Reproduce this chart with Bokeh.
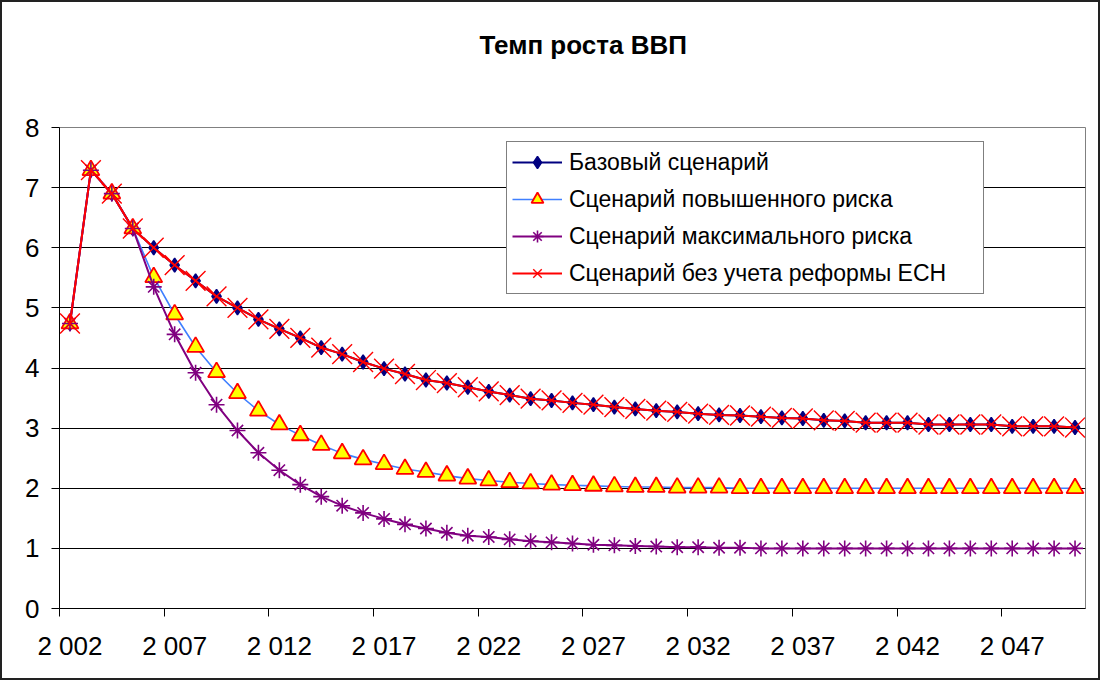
from bokeh.plotting import figure
from bokeh.models import FixedTicker, Legend, LegendItem, Range1d, Title
from bokeh.layouts import column
from bokeh.embed import file_html
from bokeh.resources import INLINE

# ---- data ----
years = list(range(2002, 2051))
label_years = [2002, 2007, 2012, 2017, 2022, 2027, 2032, 2037, 2042, 2047]
y_ticks = [0, 1, 2, 3, 4, 5, 6, 7, 8]

base = [4.74, 7.29, 6.90, 6.32, 6.00, 5.71, 5.45, 5.19, 5.00, 4.81, 4.65, 4.50, 4.34, 4.23,
        4.10, 3.99, 3.90, 3.80, 3.75, 3.68, 3.61,
        3.55, 3.49, 3.46, 3.42, 3.39, 3.35, 3.32, 3.29, 3.27, 3.24, 3.22, 3.21, 3.19, 3.17,
        3.16, 3.13, 3.12, 3.09, 3.09, 3.09, 3.06, 3.06, 3.06, 3.06, 3.03, 3.03, 3.03, 3.01]

raised = [4.74, 7.29, 6.90, 6.32, 5.51, 4.89, 4.35, 3.93, 3.58, 3.29, 3.06, 2.88, 2.72, 2.58,
          2.48, 2.40, 2.32, 2.27, 2.21, 2.16, 2.13,
          2.10, 2.08, 2.06, 2.05, 2.04, 2.03, 2.02, 2.02, 2.01, 2.01, 2.01,
          2.00, 2.00, 2.00, 2.00, 2.00, 2.00, 2.00, 2.00, 2.00, 2.00, 2.00, 2.00, 2.00, 2.00,
          2.00, 2.00, 2.00]

maximal = [4.74, 7.29, 6.90, 6.32, 5.35, 4.56, 3.92, 3.39, 2.96, 2.59, 2.30, 2.06, 1.86, 1.71,
           1.59, 1.49, 1.40, 1.33, 1.26, 1.21, 1.19,
           1.15, 1.12, 1.10, 1.08, 1.06, 1.05, 1.04, 1.03, 1.02, 1.02, 1.01, 1.01,
           1.00, 1.00, 1.00, 1.00, 1.00, 1.00, 1.00, 1.00, 1.00, 1.00, 1.00, 1.00, 1.00, 1.00,
           1.00, 1.00]

no_reform = [4.74, 7.29, 6.90, 6.32, 6.00, 5.71, 5.45, 5.19, 5.00, 4.81, 4.65, 4.50, 4.34, 4.23,
             4.10, 3.99, 3.90, 3.80, 3.75, 3.68, 3.61,
             3.55, 3.49, 3.46, 3.42, 3.39, 3.35, 3.32, 3.29, 3.27, 3.24, 3.22, 3.21, 3.19, 3.17,
             3.16, 3.13, 3.12, 3.09, 3.09, 3.09, 3.06, 3.06, 3.06, 3.06, 3.03, 3.03, 3.03, 3.01]

names = ["Базовый сценарий", "Сценарий повышенного риска",
         "Сценарий максимального риска", "Сценарий без учета реформы ЕСН"]
title_text = "Темп роста ВВП"

FONT = "Liberation Sans"

p = figure(width=1096, height=676, output_backend="svg", toolbar_location=None,
           x_range=Range1d(years[0] - 0.5, years[-1] + 0.5), y_range=Range1d(0, 8),
           min_border_left=57, min_border_right=13, min_border_top=125, min_border_bottom=70)

p.title.text = title_text
p.title.align = "left"
p.title.offset = 420
p.title.text_font = FONT
p.title.text_font_size = "26px"
p.title.text_font_style = "bold"
p.title.text_color = "black"
p.title.standoff = 10

# empty spacer panel between the frame and the title
p.add_layout(Title(text=" ", text_font_size="2px", standoff=59), "above")

# series
l1 = p.line(years, base, line_color="#000080", line_width=2)
m1 = p.scatter(years, base, marker="diamond", size=14,
               fill_color="#000080", line_color="#000080", line_width=1.5)

l2 = p.line(years, raised, line_color="#3f7fff", line_width=1.6)
m2 = p.scatter(years, raised, marker="triangle", size=17, fill_color="#ffff00",
               line_color="#ff0000", line_width=1.8)

l3 = p.line(years, maximal, line_color="#800080", line_width=2)
m3 = p.scatter(years, maximal, marker="asterisk", size=16, line_color="#800080", line_width=1.6)

l4 = p.line(years, no_reform, line_color="#ff0000", line_width=2)
m4 = p.scatter(years, no_reform, marker="x", size=28, line_color="#ff0000", line_width=1.4)

# axes
p.yaxis.ticker = FixedTicker(ticks=y_ticks)
p.yaxis.major_tick_out = 8
p.yaxis.major_tick_in = 0
p.yaxis.minor_tick_out = 0
p.yaxis.minor_tick_in = 0
p.yaxis.major_label_standoff = 12
p.yaxis.major_label_text_font = FONT
p.yaxis.major_label_text_font_size = "26px"
p.yaxis.major_label_text_color = "black"
p.yaxis.axis_line_color = "black"
p.yaxis.major_tick_line_color = "black"

p.xaxis.ticker = FixedTicker(ticks=label_years, minor_ticks=[y - 0.5 for y in label_years])
p.xaxis.major_label_overrides = {y: f"{y:,}".replace(",", " ") for y in label_years}
p.xaxis.major_tick_out = 0
p.xaxis.major_tick_in = 0
p.xaxis.minor_tick_out = 8
p.xaxis.minor_tick_in = 0
p.xaxis.minor_tick_line_color = "black"
p.xaxis.major_label_standoff = 14
p.xaxis.major_label_text_font = FONT
p.xaxis.major_label_text_font_size = "26px"
p.xaxis.major_label_text_color = "black"
p.xaxis.axis_line_color = "black"

p.xgrid.visible = False
p.ygrid.grid_line_color = "black"
p.ygrid.grid_line_width = 1
p.outline_line_color = "#808080"
p.outline_line_width = 1

legend = Legend(items=[LegendItem(label=names[0], renderers=[l1, m1]),
                       LegendItem(label=names[1], renderers=[l2, m2]),
                       LegendItem(label=names[2], renderers=[l3, m3]),
                       LegendItem(label=names[3], renderers=[l4, m4])],
                location=(447, 314))
legend.label_text_font = FONT
legend.label_text_font_size = "23px"
legend.label_text_color = "black"
legend.glyph_width = 50
legend.glyph_height = 30
legend.spacing = 7
legend.padding = 5
legend.margin = 0
legend.label_standoff = 7
legend.label_width = 409
legend.border_line_color = "black"
legend.border_line_width = 1
legend.background_fill_color = "white"
legend.background_fill_alpha = 1
p.add_layout(legend)

layout = column(p, styles={"border": "2px solid #222222"})
open("out.html", "w").write(file_html(layout, INLINE))
